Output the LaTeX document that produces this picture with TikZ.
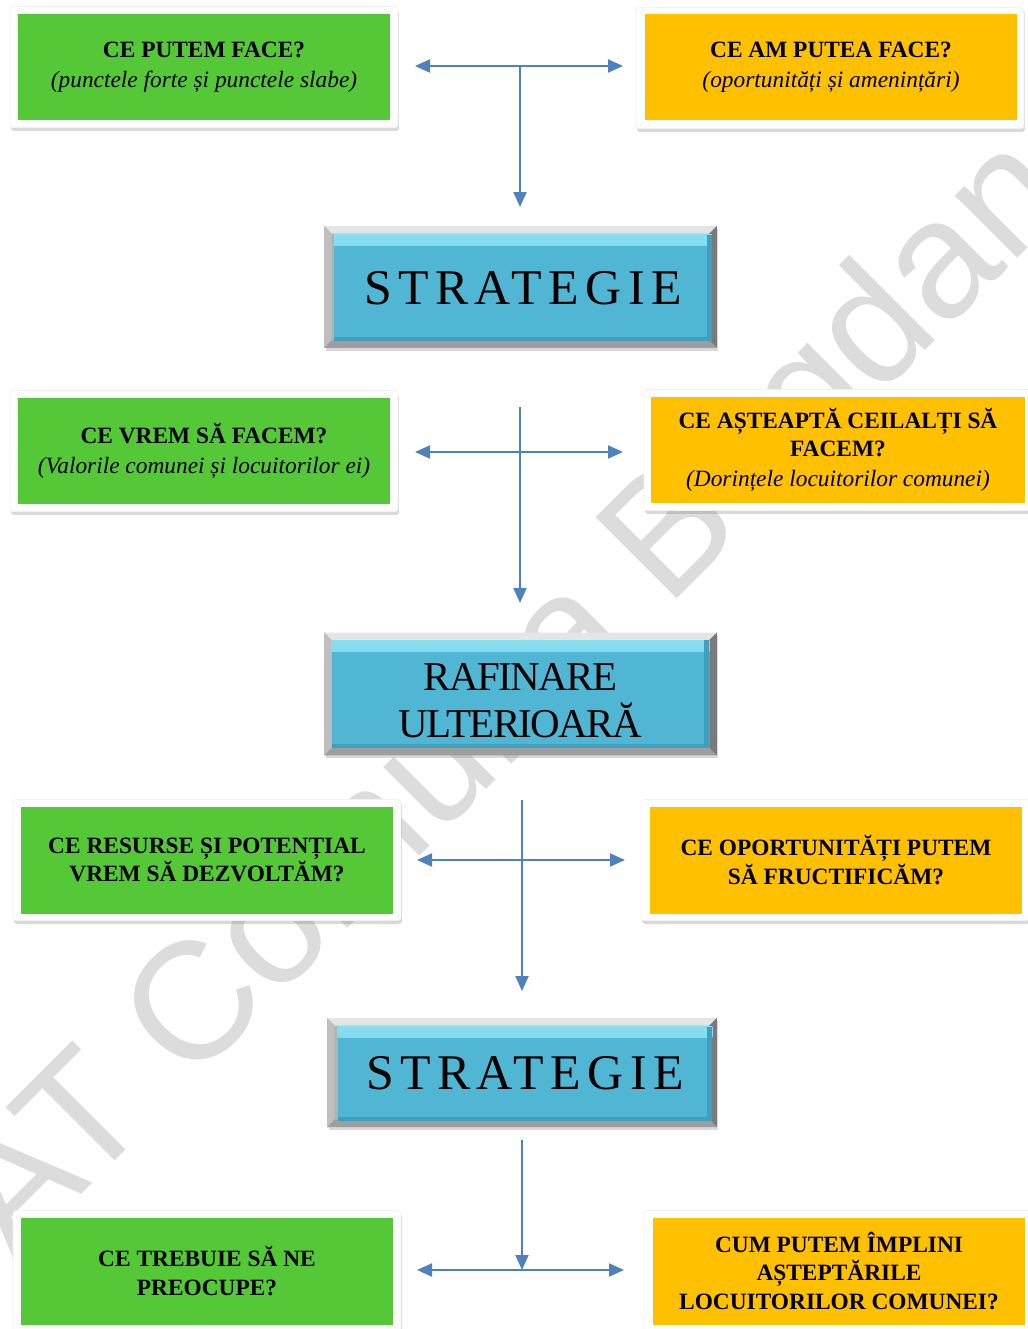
\documentclass[tikz,border=0pt]{standalone}
\usepackage{fontspec}
\setmainfont{Liberation Serif}
\newfontfamily\wmfont{Liberation Sans}
\usetikzlibrary{arrows.meta,shadows}
\definecolor{sw_green}{RGB}{85, 200, 55}
\definecolor{sw_orange}{RGB}{255, 192, 0}
\definecolor{sw_blue}{RGB}{80, 182, 212}
\definecolor{sw_light}{RGB}{138, 222, 242}
\definecolor{sw_dark}{RGB}{62, 160, 190}
\definecolor{sw_arrow}{RGB}{79, 129, 189}
\definecolor{sw_mark}{RGB}{220, 220, 220}
\tikzstyle{card}=[rectangle,rounded corners=0.6mm,fill=white,draw=black!6,
  minimum width=7.76cm,minimum height=2.42cm,
  drop shadow={shadow xshift=0.2mm,shadow yshift=-0.7mm,opacity=0.3}]
\tikzstyle{gn}=[rectangle,fill=sw_green,inner sep=0pt,minimum width=7.46cm,
  minimum height=2.14cm,align=center,font=\fontsize{13.3}{16}\selectfont]
\tikzstyle{og}=[gn,fill=sw_orange]
\tikzstyle{bev}=[rectangle,fill=black!30,outer sep=0pt,minimum width=7.86cm,
  minimum height=2.44cm,drop shadow={shadow xshift=0.3mm,shadow yshift=-0.6mm,opacity=0.3}]
\tikzstyle{sn}=[rectangle,fill=sw_blue,inner sep=0pt,minimum width=7.56cm,
  minimum height=2.14cm,align=center,
  path picture={
    \shade[top color=sw_light,bottom color=sw_blue]
      (path picture bounding box.north west) rectangle
      ([yshift=-2.2mm]path picture bounding box.north east);
    \fill[sw_dark] ([xshift=-1mm]path picture bounding box.north east)
      rectangle (path picture bounding box.south east);
    \fill[sw_dark] (path picture bounding box.south west)
      rectangle ([yshift=0.8mm]path picture bounding box.south east);}]
\tikzstyle{arr}=[draw=sw_arrow,line width=0.4mm,-{Triangle[length=3mm,width=2.6mm]}]
\tikzstyle{none}=[]
\newcommand{\bevel}[1]{%
  \fill[black!10] (#1.north west) -- (#1.north east) -- ([shift={(-1.5mm,-1.5mm)}]#1.north east)
    -- ([shift={(1.5mm,-1.5mm)}]#1.north west) -- cycle;
  \fill[black!25] (#1.north west) -- ([shift={(1.5mm,-1.5mm)}]#1.north west)
    -- ([shift={(1.5mm,1.5mm)}]#1.south west) -- (#1.south west) -- cycle;
  \fill[black!52] (#1.north east) -- (#1.south east) -- ([shift={(-1.5mm,1.5mm)}]#1.south east)
    -- ([shift={(-1.5mm,-1.5mm)}]#1.north east) -- cycle;
  \fill[black!38] (#1.south west) -- ([shift={(1.5mm,1.5mm)}]#1.south west)
    -- ([shift={(-1.5mm,1.5mm)}]#1.south east) -- (#1.south east) -- cycle;
}

\begin{document}
\begin{tikzpicture}[x=0.02cm, y=-0.02cm]
    \useasboundingbox (0,0) rectangle (1028,1329);
    % watermark
    \begin{scope}
        \clip (0,0) rectangle (1028,1329);
        \node [anchor=base west,inner sep=0pt,rotate=45,text=sw_mark,
            font=\wmfont\fontsize{95}{95}\selectfont] (wm) at (14,1262) {AT Comuna Bogdan};
    \end{scope}
    % sus
    \node [style=card] (1gc) at (204,67) {};
    \node [style=gn] (1g) at (204,67) {\textbf{CE PUTEM FACE?}\\[1pt]\textit{(punctele forte și punctele slabe)}};
    \node [style=card] (1oc) at (830,68) {};
    \node [style=og] (1o) at (831,67) {\textbf{CE AM PUTEA FACE?}\\[1pt]\textit{(oportunități și amenințări)}};
    \node [style=bev] (1b) at (520.5,287) {};
    \bevel{1b}
    \node [style=sn, font=\fontsize{28.4}{30}\selectfont\addfontfeature{LetterSpace=13}] (1s) at (523,288) {STRATEGIE};
    % mijloc
    \node [style=card] (2gc) at (204,451) {};
    \node [style=gn] (2g) at (204,451) {\textbf{CE VREM SĂ FACEM?}\\[1pt]\textit{(Valorile comunei și locuitorilor ei)}};
    \node [style=card] (2oc) at (838,450) {};
    \node [style=og, minimum width=7.5cm] (2o) at (838,450) {\textbf{CE AȘTEAPTĂ CEILALȚI SĂ}\\\textbf{FACEM?}\\[1pt]\textit{(Dorințele locuitorilor comunei)}};
    \node [style=bev, minimum height=2.46cm] (2b) at (520.5,694) {};
    \bevel{2b}
    \node [style=sn, minimum height=2.16cm, font=\fontsize{23.3}{26.7}\selectfont\addfontfeature{LetterSpace=-4}] (2s) at (520.5,694) {\rule{0pt}{23pt}RAFINARE\\ULTERIOARĂ};
    % jos
    \node [style=card] (3gc) at (207,860) {};
    \node [style=gn] (3g) at (207,860) {\textbf{CE RESURSE ȘI POTENȚIAL}\\\textbf{VREM SĂ DEZVOLTĂM?}};
    \node [style=card] (3oc) at (835,860) {};
    \node [style=og] (3o) at (836,860) {\textbf{CE OPORTUNITĂȚI PUTEM}\\\textbf{SĂ FRUCTIFICĂM?}};
    \node [style=bev, minimum width=7.8cm, minimum height=2.18cm] (3b) at (522,1072.5) {};
    \bevel{3b}
    \node [style=sn, minimum width=7.5cm, minimum height=1.88cm, font=\fontsize{28.4}{30}\selectfont\addfontfeature{LetterSpace=13}] (3s) at (525,1073.5) {STRATEGIE};
    \node [style=card] (4gc) at (207,1271) {};
    \node [style=gn] (4g) at (207,1271) {\textbf{CE TREBUIE SĂ NE}\\\textbf{PREOCUPE?}};
    \node [style=card] (4oc) at (838,1271) {};
    \node [style=og] (4o) at (839,1271) {\textbf{CUM PUTEM ÎMPLINI}\\\textbf{AȘTEPTĂRILE}\\\textbf{LOCUITORILOR COMUNEI?}};
    % capete sageti
    \node [style=none] (j1) at (520,66) {};
    \node [style=none] (l1) at (415,66) {};
    \node [style=none] (r1) at (623,66) {};
    \node [style=none] (b1) at (520,207) {};
    \node [style=none] (t2) at (520,407) {};
    \node [style=none] (j2) at (520,452) {};
    \node [style=none] (l2) at (415,452) {};
    \node [style=none] (r2) at (623,452) {};
    \node [style=none] (b2) at (520,603) {};
    \node [style=none] (t3) at (522,800) {};
    \node [style=none] (j3) at (522,860) {};
    \node [style=none] (l3) at (417,860) {};
    \node [style=none] (r3) at (625,860) {};
    \node [style=none] (b3) at (522,991) {};
    \node [style=none] (t4) at (522,1140) {};
    \node [style=none] (j4) at (522,1270) {};
    \node [style=none] (l4) at (417,1270) {};
    \node [style=none] (r4) at (624,1270) {};
    \draw [style=arr] (j1.center) to (l1.center);
    \draw [style=arr] (j1.center) to (r1.center);
    \draw [style=arr] (j1.center) to (b1.center);
    \draw [style=arr] (t2.center) to (b2.center);
    \draw [style=arr] (j2.center) to (l2.center);
    \draw [style=arr] (j2.center) to (r2.center);
    \draw [style=arr] (t3.center) to (b3.center);
    \draw [style=arr] (j3.center) to (l3.center);
    \draw [style=arr] (j3.center) to (r3.center);
    \draw [style=arr] (t4.center) to (j4.center);
    \draw [style=arr] (j4.center) to (l4.center);
    \draw [style=arr] (j4.center) to (r4.center);
\end{tikzpicture}
\end{document}
